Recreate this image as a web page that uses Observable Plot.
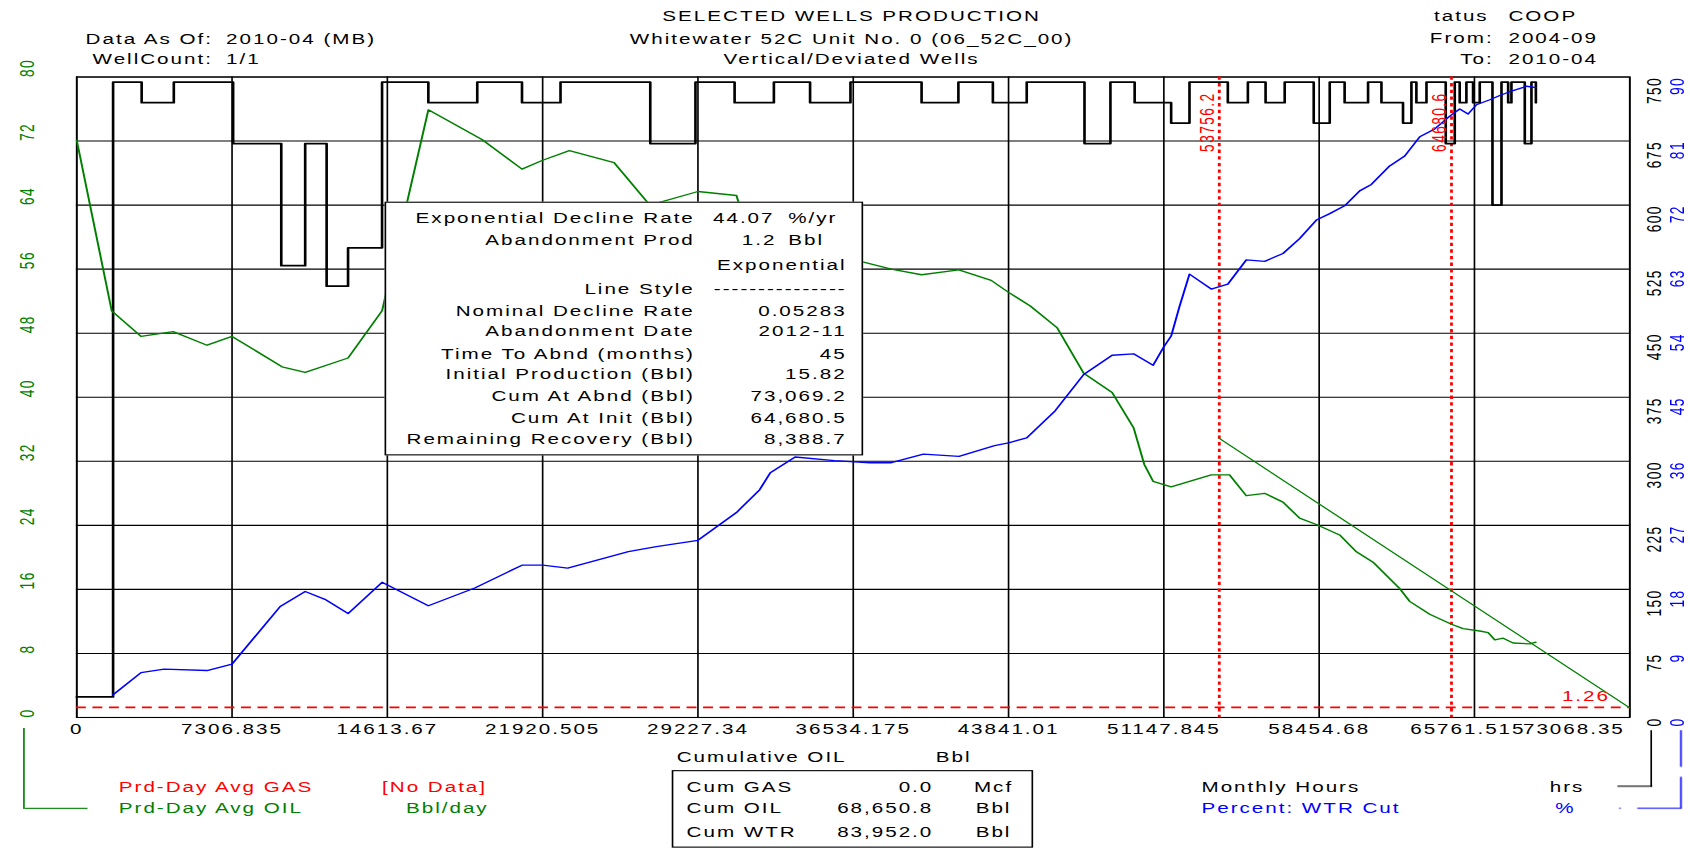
<!DOCTYPE html>
<html><head><meta charset="utf-8">
<script src="https://cdn.jsdelivr.net/npm/d3@7"></script>
<script src="https://cdn.jsdelivr.net/npm/@observablehq/plot@0.6"></script>
<style>
html,body{margin:0;padding:0;background:#fff;overflow:hidden}
#stage{position:absolute;left:0;top:0;width:1024px;height:768px;transform-origin:0 0;transform:scale(1.650390625,1.108072917);background:#fff}
#stage svg{position:absolute;left:0;top:0}
.t{position:absolute;white-space:pre;line-height:16px;height:16px;font-family:"Liberation Sans",Arial,sans-serif;font-size:12.5px;letter-spacing:1.2px;color:#000}
.box{position:absolute;box-sizing:border-box;border:1px solid #000;background:#fff}
.ln{position:absolute}
</style></head><body><div id="stage"></div>
<script>
// ---------- data ----------
const xTickLabels = ["0","7306.835","14613.67","21920.505","29227.34","36534.175","43841.01","51147.845","58454.68","65761.515","73068.35"];
const oilTicks = [0,8,16,24,32,40,48,56,64,72,80];
const hoursTicks = [0,75,150,225,300,375,450,525,600,675,750];
const wtrTicks = [0,9,18,27,36,45,54,63,72,81,90];

// Monthly hours (step line): cumulative oil at start of each step, hours
const hoursCum = [0,1710,3054,4567,7358,9623,10748,11757,12765,14365,16543,18844,20949,22761,26984,29110,30952,32800,34503,36403,39749,41481,43103,44696,47414,48634,49774,51491,52354,54158,55101,55934,56833,58199,58952,59653,60756,61385,62400,62795,63029,63504,64410,64834,65067,65382,65696,66010,66609,67033,67347,67501,68129,68443,68651];
const hoursVal = [24,744,720,744,672,529,672,505,550,744,720,744,720,744,672,744,720,744,720,744,720,744,720,744,672,744,720,696,744,720,744,720,744,696,744,720,744,720,696,744,720,744,672,744,720,744,720,744,600,744,720,744,672,744,720];

// Prd-Day Avg OIL (Bbl/day) vs cumulative oil
const oilCum = [0,1644,3025,4537,6130,7307,9660,10748,12765,14365,16543,19064,20949,21921,23177,25282,26962,29227,31040,31346,36972,38324,39749,41503,43023,43841,44864,46120,47377,48714,49723,50227,50643,51491,52354,53376,54238,55027,55890,56752,57534,58323,59419,60208,60990,62247,62714,63657,64680,65228,66010,66405,66719,67114,67581,68370,68651];
const oilRate = [72.1,50.8,47.6,48.2,46.5,47.6,43.8,43.1,44.9,50.8,75.9,72.2,68.5,69.6,70.8,69.3,64.0,65.7,65.2,62.5,56.9,56.0,55.3,55.9,54.6,53.1,51.4,48.7,43.0,40.6,36.2,31.6,29.5,28.8,29.5,30.3,30.3,27.7,28.0,26.9,24.9,24.1,22.8,20.7,19.4,16.1,14.5,12.9,11.65,11.1,10.8,10.6,9.7,9.9,9.3,9.2,9.4];

// Percent WTR cut vs cumulative oil
const wtrCum = [1710,3025,4114,6130,7307,9572,10748,11676,12765,14365,16543,18727,20949,21921,23097,25954,27269,29227,31039,32128,32632,33801,35643,37323,38324,39837,41510,43183,43841,44696,46033,47377,48714,49723,50643,51148,51491,51879,52354,53376,54158,55027,55890,56752,57534,58323,58952,59653,60362,60910,61772,62481,63190,63891,64600,65067,65462,65856,66485,66952,67581,68210,68651];
const wtrCut = [3.2,6.3,6.8,6.6,7.5,15.6,17.7,16.6,14.6,19.0,15.7,18.2,21.4,21.4,21.0,23.3,24.0,24.9,28.8,32.0,34.4,36.6,36.1,35.8,35.8,37.0,36.7,38.2,38.6,39.3,43.1,48.2,50.9,51.1,49.5,52.1,53.6,57.7,62.3,60.2,60.9,64.3,64.1,65.2,67.3,69.9,70.8,71.9,74.0,74.9,77.5,78.9,81.6,82.7,84.5,85.5,84.8,86.1,86.8,87.4,88.1,88.7,88.5];

// Exponential decline forecast
const forecastCum = [53756.2,64680.5,73069.2];
const forecastRate = [34.86,15.82,1.2];
const markerCum = [53756.2,64680.6];
const markerLabels = ["53756.2","64680.6"];
const abandonRate = [1.26];

const oilMax = 80, hoursMax = 750, wtrMax = 90;
const GREEN = "#008000", BLUE = "#0000ff", RED = "#ff0000";

// ---------- chart ----------
const xTicks = xTickLabels.map(Number);
const hoursData = hoursCum.map((c, i) => ({c, v: hoursVal[i]}));
const oilData = oilCum.map((c, i) => ({c, v: oilRate[i]}));
const wtrData = wtrCum.map((c, i) => ({c, v: wtrCut[i]}));
const fcData = forecastCum.map((c, i) => ({c, v: forecastRate[i]}));
const FS = 12.5;

const svg = Plot.plot({
  width: 1024, height: 768,
  marginLeft: 46, marginRight: 37, marginTop: 69, marginBottom: 121,
  x: {domain: [0, 73068.35], axis: null},
  y: {domain: [0, oilMax], axis: null},
  style: {fontFamily: '"Liberation Sans", Arial, sans-serif', fontSize: FS + "px", letterSpacing: "1.2px", background: "transparent", overflow: "visible"},
  marks: [
    Plot.ruleY(oilTicks, {y: d => d, stroke: "#000", strokeWidth: 1}),
    Plot.ruleX(xTicks, {x: d => d, stroke: "#000", strokeWidth: 1}),
    Plot.frame({stroke: "#000", strokeWidth: 1}),
    Plot.ruleX(markerCum, {x: d => d, stroke: RED, strokeWidth: 1.7, strokeDasharray: "3,3"}),
    Plot.ruleY(abandonRate, {y: d => d, stroke: RED, strokeWidth: 1.4, strokeDasharray: "6,4"}),
    Plot.line(hoursData, {x: "c", y: d => d.v * oilMax / hoursMax, curve: "step-after", stroke: "#000", strokeWidth: 1.6}),
    Plot.line(oilData, {x: "c", y: "v", stroke: GREEN, strokeWidth: 1.2}),
    Plot.line(fcData, {x: "c", y: "v", stroke: GREEN, strokeWidth: 1}),
    Plot.line(wtrData, {x: "c", y: d => d.v * oilMax / wtrMax, stroke: BLUE, strokeWidth: 1.2}),
    // axes labels
    Plot.text(oilTicks, {y: d => d, text: d => String(d), frameAnchor: "left", dx: -30, rotate: -90, fill: GREEN, fontSize: FS}),
    Plot.text(hoursTicks, {y: d => d * oilMax / hoursMax, text: d => String(d), frameAnchor: "right", dx: 15, rotate: -90, fill: "#000", fontSize: FS}),
    Plot.text(wtrTicks, {y: d => d * oilMax / wtrMax, text: d => String(d), frameAnchor: "right", dx: 29, rotate: -90, fill: BLUE, fontSize: FS}),
    Plot.text(xTicks.slice(0, -2), {x: d => d, text: (d, i) => xTickLabels[i], frameAnchor: "bottom", dy: 14.5, fill: "#000", fontSize: FS, ariaLabel: "x-tick-labels"}),
    Plot.text(xTicks.slice(-2, -1), {x: d => d, text: () => xTickLabels[xTickLabels.length - 2], frameAnchor: "bottom", dy: 14.5, dx: -4, fill: "#000", fontSize: FS, ariaLabel: "x-tick-labels"}),
    Plot.text(xTicks.slice(-1), {x: d => d, text: () => xTickLabels[xTickLabels.length - 1], frameAnchor: "bottom", dy: 14.5, dx: -3, textAnchor: "end", fill: "#000", fontSize: FS, ariaLabel: "x-tick-labels"}),
    Plot.text(markerCum, {x: d => d, text: (d, i) => markerLabels[i], frameAnchor: "top", dy: 14, dx: -12, rotate: -90, textAnchor: "end", fill: RED, fontSize: FS}),
    Plot.text(abandonRate, {y: d => d, text: d => d.toFixed(2), frameAnchor: "right", dx: -12, dy: -10, textAnchor: "end", fill: RED, fontSize: FS})
  ]
});
svg.querySelectorAll('g[aria-label="x-tick-labels"]').forEach(g => g.style.letterSpacing = "0.7px");
const stage = document.getElementById("stage");
stage.appendChild(svg);

// ---------- text & legend overlay ----------
function T(str, x, y, anchor = "start", color = "#000") {
  const d = document.createElement("div");
  d.className = "t";
  d.textContent = str;
  d.style.top = (y - 8) + "px";
  d.style.color = color;
  if (anchor === "start") d.style.left = x + "px";
  else if (anchor === "end") d.style.right = (1024 - x) + "px";
  else { d.style.left = x + "px"; d.style.transform = "translateX(-50%)"; }
  stage.appendChild(d);
}
function L(x1, y1, x2, y2, color) {
  const d = document.createElement("div");
  d.className = "ln";
  d.style.background = color;
  if (x1 === x2) { d.style.left = (x1 - 0.5) + "px"; d.style.top = y1 + "px"; d.style.width = "1px"; d.style.height = (y2 - y1) + "px"; }
  else { d.style.left = x1 + "px"; d.style.top = (y1 - 0.5) + "px"; d.style.height = "1px"; d.style.width = (x2 - x1) + "px"; }
  stage.appendChild(d);
}
function B(x, y, w, h) {
  const d = document.createElement("div");
  d.className = "box";
  Object.assign(d.style, {left: x + "px", top: y + "px", width: w + "px", height: h + "px"});
  stage.appendChild(d);
}

// header
T("SELECTED WELLS PRODUCTION", 516, 14.5, "middle");
T("Whitewater 52C Unit No. 0 (06_52C_00)", 516, 36, "middle");
T("Vertical/Deviated Wells", 516, 53.5, "middle");
T("Data As Of:", 129, 36, "end"); T("2010-04 (MB)", 137, 36);
T("WellCount:", 129, 54, "end"); T("1/1", 137, 54);
T("tatus", 902, 14.5, "end"); T("COOP", 914, 14.5);
T("From:", 905, 34.5, "end"); T("2004-09", 914, 34.5);
T("To:", 905, 53.5, "end"); T("2010-04", 914, 53.5);

// decline info box
B(233, 182, 290, 229);
const infoRows = [
  ["Exponential Decline Rate", 197], ["Abandonment Prod", 216.6], ["", 240], ["Line Style", 260.8],
  ["Nominal Decline Rate", 280.7], ["Abandonment Date", 299.4], ["Time To Abnd (months)", 319.5],
  ["Initial Production (Bbl)", 338.4], ["Cum At Abnd (Bbl)", 358], ["Cum At Init (Bbl)", 378.1],
  ["Remaining Recovery (Bbl)", 397.1]
];
const infoValues = ["", "", "Exponential", "---------------", "0.05283", "2012-11", "45", "15.82", "73,069.2", "64,680.5", "8,388.7"];
infoRows.forEach(([lab, y], i) => { if (lab) T(lab, 421, y, "end"); if (infoValues[i]) T(infoValues[i], 513, y, "end"); });
T("44.07", 432, 197); T("%/yr", 477.6, 197);
T("1.2", 449.5, 216.6); T("Bbl", 477.6, 216.6);

// x axis title
T("Cumulative OIL", 410, 683.5); T("Bbl", 567, 683.5);

// cum box
B(407, 695, 219, 70);
T("Cum GAS", 416, 711.2); T("0.0", 565.5, 711.2, "end"); T("Mcf", 602, 711.2, "middle");
T("Cum OIL", 416, 730.1); T("68,650.8", 565.5, 730.1, "end"); T("Bbl", 602, 730.1, "middle");
T("Cum WTR", 416, 750.9); T("83,952.0", 565.5, 750.9, "end"); T("Bbl", 602, 750.9, "middle");

// legends
T("Prd-Day Avg GAS", 72, 711.2, "start", RED); T("[No Data]", 231.5, 711.2, "start", RED);
T("Prd-Day Avg OIL", 72, 730.1, "start", GREEN); T("Bbl/day", 246, 730.1, "start", GREEN);
T("Monthly Hours", 728, 711.2); T("hrs", 939, 711.2);
T("Percent: WTR Cut", 728, 730.1, "start", BLUE); T("%", 948.5, 730.1, "middle", BLUE);

L(14.5, 657, 14.5, 729.5, GREEN); L(14.5, 729.2, 53, 729.2, GREEN);
L(1000.6, 659, 1000.6, 709.8, "#000"); L(979.5, 709.4, 1000.6, 709.4, "#000");
L(1018.3, 659, 1018.3, 692, BLUE); L(1018.3, 701, 1018.3, 729.6, BLUE); L(992, 729.2, 1018.3, 729.2, BLUE);
L(980.8, 729.2, 981.8, 729.2, BLUE);
</script></body></html>
